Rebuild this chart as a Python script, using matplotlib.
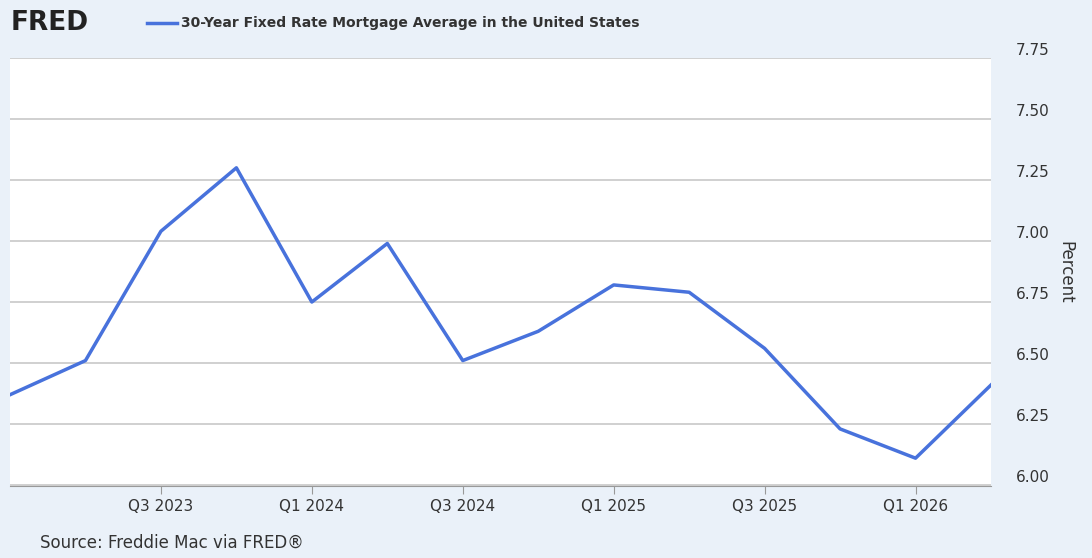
# importing the required modules
import matplotlib.pyplot as plt

# quarter index values (0 = Q1 2023)
x = [0, 1, 2, 3, 4, 5, 6, 7, 8, 9, 10, 11, 12, 13]
# corresponding mortgage rate values
y = [6.37, 6.51, 7.04, 7.30, 6.75, 6.99, 6.51, 6.63, 6.82, 6.79, 6.56, 6.23, 6.11, 6.41]

tick_pos = [2, 4, 6, 8, 10, 12]
tick_labels = ['Q3 2023', 'Q1 2024', 'Q3 2024', 'Q1 2025', 'Q3 2025', 'Q1 2026']
y_ticks = [6.00, 6.25, 6.50, 6.75, 7.00, 7.25, 7.50, 7.75]

fig = plt.figure(figsize=(10.92, 5.58), dpi=100, facecolor='#eaf1f9')
ax = fig.add_axes([10 / 1092, 72 / 558, 981 / 1092, 428 / 558])

# plotting the line
ax.plot(x, y, color='#4872dc', linewidth=2.5)
ax.set_xlim(0, 13)
ax.set_ylim(5.996, 7.75)

# axes styling
ax.set_xticks(tick_pos)
ax.set_xticklabels(tick_labels, fontsize=11, color='#333333')
ax.set_yticks(y_ticks)
ax.set_yticklabels(['%.2f' % v for v in y_ticks], fontsize=11, color='#333333', va='bottom')
ax.yaxis.tick_right()
ax.yaxis.set_label_position('right')
ax.set_ylabel('Percent', fontsize=12, color='#333333', rotation=270, labelpad=18)
ax.grid(axis='y', color='#c8c8c8', linewidth=1.2)
ax.tick_params(axis='y', length=0, pad=18)
ax.tick_params(axis='x', length=6, color='#999999')
for side in ['top', 'right', 'left']:
    ax.spines[side].set_visible(False)
ax.spines['bottom'].set_color('#999999')

# header and source text
fig.text(0.01, 0.958, 'FRED', fontsize=19, fontweight='bold', color='#222222', va='center')
fig.lines.append(plt.Line2D([0.135, 0.162], [0.958, 0.958], color='#4872dc', linewidth=2.5, transform=fig.transFigure))
fig.text(0.166, 0.958, '30-Year Fixed Rate Mortgage Average in the United States', fontsize=10,
         fontweight='bold', color='#333333', va='center')
fig.text(0.037, 0.028, 'Source: Freddie Mac via FRED®', fontsize=12, color='#333333', va='center')

plt.savefig('out.png', facecolor=fig.get_facecolor())
